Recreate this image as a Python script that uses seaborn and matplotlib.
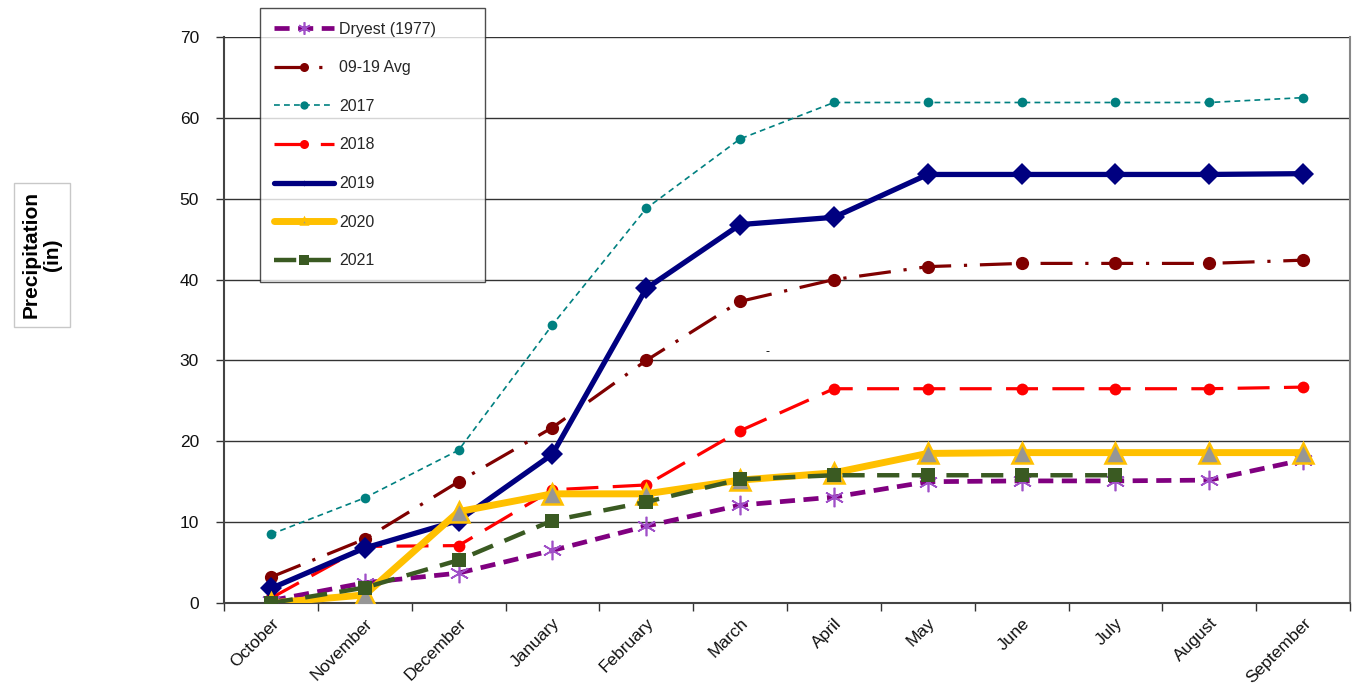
import numpy as np
import pandas as pd
import matplotlib
matplotlib.use("Agg")
import matplotlib.pyplot as plt
import seaborn as sns

months = ["October", "November", "December", "January", "February", "March",
          "April", "May", "June", "July", "August", "September"]

dryest_1977 = [0.3, 2.5, 3.7, 6.5, 9.5, 12.1, 13.1, 15.0, 15.1, 15.1, 15.2, 17.7]
avg_09_19 = [3.2, 7.9, 15.0, 21.7, 30.0, 37.3, 40.0, 41.6, 42.0, 42.0, 42.0, 42.4]
y2017 = [8.5, 13.0, 18.9, 34.4, 48.8, 57.4, 61.9, 61.9, 61.9, 61.9, 61.9, 62.5]
y2018 = [0.6, 7.0, 7.1, 14.0, 14.6, 21.3, 26.5, 26.5, 26.5, 26.5, 26.5, 26.7]
y2019 = [1.8, 6.8, 10.2, 18.4, 38.9, 46.8, 47.7, 53.0, 53.0, 53.0, 53.0, 53.1]
y2020 = [0.0, 1.0, 11.3, 13.5, 13.5, 15.2, 16.1, 18.5, 18.6, 18.6, 18.6, 18.6]
y2021 = [0.0, 1.9, 5.3, 10.2, 12.5, 15.3, 15.8, 15.8, 15.8, 15.8]

series_labels = ["Dryest (1977)", "09-19 Avg", "2017", "2018", "2019", "2020", "2021"]
series_values = [dryest_1977, avg_09_19, y2017, y2018, y2019, y2020, y2021]

sns.set_theme(style="white")
plt.rcParams["font.family"] = ["Liberation Sans", "DejaVu Sans"]

W, H = 1353, 690
fig = plt.figure(figsize=(W / 100, H / 100), dpi=100)
ax = fig.add_axes([224 / W, 1 - 603 / H, (1350 - 224) / W, (603 - 37) / H])

styles = {
    "Dryest (1977)": dict(color="#800080", lw=3.4, dashes=(3.2, 1.8), marker=(6, 2, 0),
                          ms=14, mec="#A050C8", mew=1.2, mfc="none", lms=9),
    "09-19 Avg": dict(color="#800000", lw=2.3, dashes=(10, 4, 1, 4), marker="o",
                      ms=9.5, mec="#800000", mfc="#800000", mew=0, lms=6.5),
    "2017": dict(color="#008080", lw=1.2, dashes=(3.5, 2.5), marker="o",
                 ms=7, mec="#008080", mfc="#008080", mew=0, lms=6),
    "2018": dict(color="#FF0000", lw=2.3, dashes=(10, 4.5), marker="o",
                 ms=8.5, mec="#FF0000", mfc="#FF0000", mew=0, lms=6.5),
    "2019": dict(color="#000080", lw=3.8, dashes=None, marker="D",
                 ms=11, mec="#000080", mfc="#000080", mew=0, lms=3),
    "2020": dict(color="#FFC000", lw=5.0, dashes=None, marker="^",
                 ms=15, mec="#FFC000", mfc="#969696", mew=1.8, lms=5),
    "2021": dict(color="#3A5A22", lw=3.2, dashes=(5, 2.8), marker="s",
                 ms=10.5, mec="#3A5A22", mfc="#3A5A22", mew=0, lms=7),
}

for i, (lab, vals) in enumerate(zip(series_labels, series_values)):
    st = styles[lab]
    df = pd.DataFrame({"x": np.arange(len(vals)), "y": vals})
    kw = dict(color=st["color"], linewidth=st["lw"], marker=st["marker"],
              markersize=st["ms"], markeredgecolor=st["mec"],
              markerfacecolor=st["mfc"], markeredgewidth=st["mew"])
    sns.lineplot(data=df, x="x", y="y", ax=ax, label=lab, zorder=3 + i, **kw)
    ln = ax.lines[-1]
    if st["dashes"] is not None:
        ln.set_dashes(st["dashes"])
    else:
        ln.set_linestyle("-")

ax.set_xlim(-0.5, len(months) - 0.5)
ax.set_ylim(0, 70)
ax.set_yticks(np.arange(0, 71, 10))
ax.set_xticks(np.arange(len(months)))
ax.set_xticklabels(months, rotation=45, ha="right", va="top", rotation_mode="anchor",
                   fontsize=12.5, color="#111111")
ax.set_xticks(np.arange(-0.5, len(months) + 0.5, 1), minor=True)
ax.tick_params(axis="x", which="major", length=0, pad=9)
ax.tick_params(axis="x", which="minor", length=6, direction="out", width=1, color="#333333", bottom=True)
ax.tick_params(axis="y", which="major", length=6, direction="out", width=1, color="#333333",
               labelsize=12.5, labelcolor="#111111", left=True, pad=12)
ax.grid(axis="y", color="#333333", linewidth=1.0, zorder=0)
ax.set_axisbelow(True)
ax.set_xlabel("")
ax.set_ylabel("")

for s in ["left", "bottom"]:
    ax.spines[s].set_color("#444444")
    ax.spines[s].set_linewidth(1.5)
ax.spines["right"].set_color("#888888")
ax.spines["right"].set_linewidth(1.5)
ax.spines["top"].set_visible(False)

ax.text(5.29, 31.0, "-", fontsize=9, ha="center", va="center", color="black")

handles, labels = ax.get_legend_handles_labels()
leg = ax.legend(handles, labels, loc="upper left", mode="expand",
                bbox_to_anchor=(260 / W, 1 - 280 / H, 225 / W, 272 / H),
                bbox_transform=fig.transFigure,
                fontsize=11.5, handlelength=3.8, labelspacing=1.48, borderpad=0.85,
                handletextpad=0.3, frameon=True, fancybox=False, borderaxespad=0)
leg.get_frame().set_edgecolor("#222222")
leg.get_frame().set_linewidth(1.0)
leg.set_zorder(20)
for h, lab in zip(leg.legend_handles, labels):
    h.set_markersize(styles[lab]["lms"])

fig.text(42 / W, 1 - 255 / H, "Precipitation\n(in)", rotation=90, ha="center", va="center",
         fontsize=15, fontweight="bold", color="black", multialignment="center",
         linespacing=1.15,
         bbox=dict(boxstyle="square,pad=0.4", facecolor="white", edgecolor="#C8C8C8", linewidth=1))

fig.savefig("out.png", dpi=100)
